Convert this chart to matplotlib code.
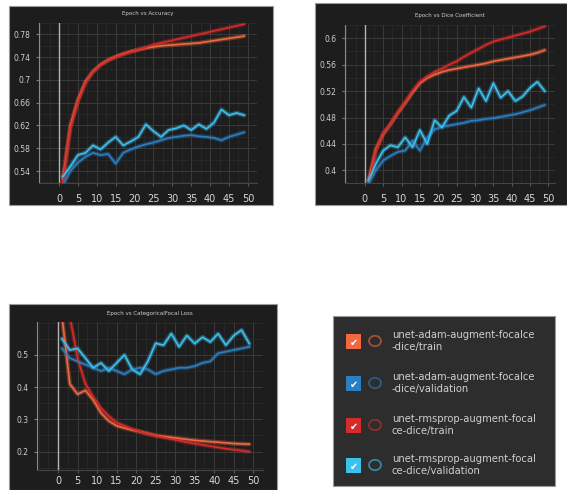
import matplotlib.pyplot as plt
from matplotlib.patches import Rectangle, Circle
from matplotlib.ticker import MultipleLocator

W, H = 567, 490

# epochs sampled every second step
epochs = [1, 3, 5, 7, 9, 11, 13, 15, 17, 19, 21, 23, 25,
          27, 29, 31, 33, 35, 37, 39, 41, 43, 45, 47, 49]

# Epoch vs Accuracy
acc_adam_train = [0.525, 0.62, 0.665, 0.697, 0.715, 0.727, 0.735, 0.741, 0.746, 0.750, 0.753, 0.756, 0.758,
                  0.760, 0.761, 0.762, 0.763, 0.764, 0.765, 0.767, 0.769, 0.771, 0.773, 0.775, 0.777]
acc_adam_val = [0.515, 0.54, 0.555, 0.565, 0.572, 0.568, 0.57, 0.553, 0.572, 0.578, 0.583, 0.587, 0.59,
                0.594, 0.598, 0.6, 0.602, 0.603, 0.601, 0.6, 0.598, 0.594, 0.6, 0.604, 0.608]
acc_rms_train = [0.52, 0.615, 0.662, 0.695, 0.714, 0.726, 0.734, 0.740, 0.745, 0.749, 0.753, 0.757, 0.762,
                 0.765, 0.768, 0.771, 0.774, 0.777, 0.780, 0.783, 0.786, 0.789, 0.792, 0.795, 0.798]
acc_rms_val = [0.53, 0.548, 0.568, 0.572, 0.585, 0.578, 0.59, 0.60, 0.585, 0.592, 0.60, 0.622, 0.61,
               0.60, 0.612, 0.615, 0.62, 0.612, 0.622, 0.614, 0.625, 0.648, 0.638, 0.642, 0.638]

# Epoch vs Dice Coefficient
dice_adam_train = [0.385, 0.432, 0.455, 0.47, 0.487, 0.502, 0.518, 0.532, 0.54, 0.545, 0.549, 0.552, 0.554,
                   0.556, 0.558, 0.56, 0.562, 0.565, 0.567, 0.569, 0.571, 0.573, 0.575, 0.578, 0.582]
dice_adam_val = [0.38, 0.40, 0.415, 0.422, 0.428, 0.43, 0.445, 0.43, 0.45, 0.462, 0.466, 0.468, 0.47,
                 0.472, 0.475, 0.476, 0.478, 0.479, 0.481, 0.483, 0.485, 0.488, 0.491, 0.495, 0.499]
dice_rms_train = [0.38, 0.43, 0.456, 0.47, 0.488, 0.503, 0.52, 0.534, 0.542, 0.549, 0.554, 0.56, 0.565,
                  0.572, 0.578, 0.584, 0.59, 0.595, 0.598, 0.601, 0.604, 0.607, 0.61, 0.614, 0.618]
dice_rms_val = [0.385, 0.41, 0.43, 0.438, 0.435, 0.45, 0.435, 0.461, 0.44, 0.476, 0.465, 0.483, 0.49,
                0.511, 0.495, 0.524, 0.505, 0.532, 0.51, 0.52, 0.505, 0.512, 0.525, 0.534, 0.52]

# Epoch vs CategoricalFocal Loss
loss_adam_train = [0.62, 0.41, 0.378, 0.39, 0.36, 0.32, 0.295, 0.28, 0.273, 0.267, 0.262, 0.256, 0.25,
                   0.247, 0.244, 0.241, 0.238, 0.235, 0.233, 0.231, 0.229, 0.227, 0.225, 0.224, 0.223]
loss_adam_val = [0.52, 0.49, 0.48, 0.47, 0.46, 0.45, 0.46, 0.45, 0.44, 0.455, 0.46, 0.455, 0.44,
                 0.45, 0.455, 0.46, 0.46, 0.465, 0.475, 0.48, 0.505, 0.51, 0.515, 0.52, 0.525]
loss_rms_train = [0.80, 0.62, 0.49, 0.41, 0.37, 0.335, 0.31, 0.29, 0.28, 0.27, 0.262, 0.255, 0.249,
                  0.244, 0.239, 0.234, 0.229, 0.225, 0.221, 0.217, 0.213, 0.209, 0.206, 0.203, 0.20]
loss_rms_val = [0.55, 0.515, 0.52, 0.49, 0.46, 0.475, 0.45, 0.475, 0.50, 0.455, 0.44, 0.48, 0.536,
                0.53, 0.566, 0.525, 0.56, 0.535, 0.555, 0.54, 0.566, 0.53, 0.56, 0.577, 0.535]

run_names = ["unet-adam-augment-focalce\n-dice/train",
             "unet-adam-augment-focalce\n-dice/validation",
             "unet-rmsprop-augment-focal\nce-dice/train",
             "unet-rmsprop-augment-focal\nce-dice/validation"]
run_colors = ["#f0683f", "#2a7ec2", "#d42b2b", "#3cc0ef"]

BG = "#1d1d1d"
TXT = "#cfcfcf"


def px_axes(left, top, right, bottom):
    return [left / W, 1 - bottom / H, (right - left) / W, (bottom - top) / H]


def panel_bg(fig, left, top, right, bottom, color=BG):
    r = Rectangle((left / W, 1 - bottom / H), (right - left) / W, (bottom - top) / H,
                  transform=fig.transFigure, facecolor=color, edgecolor="#9a9a9a", lw=0.8, zorder=0)
    fig.add_artist(r)


def draw_panel(fig, rect, title, title_y, series, xlim, ylim, ymajor, yminor, ylabels, xpad=6):
    ax = fig.add_axes(rect)
    ax.set_facecolor(BG)
    ax.set_xlim(*xlim)
    ax.set_ylim(*ylim)
    ax.xaxis.set_major_locator(MultipleLocator(5))
    ax.xaxis.set_minor_locator(MultipleLocator(2.5))
    ax.yaxis.set_major_locator(MultipleLocator(ymajor))
    ax.yaxis.set_minor_locator(MultipleLocator(yminor))
    ax.set_xticks(range(0, 51, 5))
    ax.set_yticks(ylabels)
    ax.set_yticklabels([("%.2f" % v).rstrip("0") for v in ylabels])
    ax.grid(which="major", color="#3a3a3a", lw=0.7)
    ax.grid(which="minor", color="#2c2c2c", lw=0.5)
    ax.tick_params(axis="x", colors="#5a5a5a", labelcolor="#d8d8d8", labelsize=7, length=2, pad=xpad)
    ax.tick_params(axis="y", colors="#7a7a7a", labelcolor=TXT, labelsize=5.5, length=2, pad=4)
    ax.tick_params(which="minor", length=0)
    for s in ["top", "right"]:
        ax.spines[s].set_visible(False)
    ax.spines["left"].set_color("#8a8a8a")
    ax.spines["bottom"].set_color("#444444")
    ax.axvline(0, color="#b5b5b5", lw=1.0, zorder=2)
    for ys, c in series:
        ax.plot(epochs, ys, color=c, lw=3.2, alpha=0.35, zorder=3, solid_capstyle="round")
        ax.plot(epochs, ys, color=c, lw=1.2, zorder=4)
    fig.text(rect[0] + rect[2] / 2, 1 - title_y / H, title, color=TXT, fontsize=4,
             ha="center", va="center")
    return ax


fig = plt.figure(figsize=(W / 100, H / 100), dpi=100)
fig.patch.set_facecolor("white")

panel_bg(fig, 9, 6, 273, 205)
panel_bg(fig, 315, 3, 567, 205)
panel_bg(fig, 9, 304, 277, 490)

draw_panel(fig, px_axes(39, 23, 257, 183), "Epoch vs Accuracy", 14,
           [(acc_adam_train, run_colors[0]), (acc_rms_train, run_colors[2]),
            (acc_adam_val, run_colors[1]), (acc_rms_val, run_colors[3])],
           (-5.3, 52.4), (0.519, 0.80), 0.04, 0.02,
           [0.54, 0.58, 0.62, 0.66, 0.70, 0.74, 0.78])

draw_panel(fig, px_axes(345, 25, 555, 183), "Epoch vs Dice Coefficient", 16,
           [(dice_adam_train, run_colors[0]), (dice_rms_train, run_colors[2]),
            (dice_adam_val, run_colors[1]), (dice_rms_val, run_colors[3])],
           (-5.4, 51.8), (0.381, 0.62), 0.04, 0.02,
           [0.40, 0.44, 0.48, 0.52, 0.56, 0.60])

draw_panel(fig, px_axes(37, 322, 263, 470), "Epoch vs CategoricalFocal Loss", 313,
           [(loss_adam_train, run_colors[0]), (loss_rms_train, run_colors[2]),
            (loss_adam_val, run_colors[1]), (loss_rms_val, run_colors[3])],
           (-5.4, 52.5), (0.143, 0.602), 0.1, 0.05,
           [0.2, 0.3, 0.4, 0.5], xpad=2.5)

# run list box
panel_bg(fig, 333, 316, 555, 486, color="#2d2d2d")
row_y = [341, 383, 425, 465]
for name, c, y in zip(run_names, run_colors, row_y):
    bx, by, bs = 346, y - 7, 15
    fig.add_artist(Rectangle((bx / W, 1 - (by + bs) / H), bs / W, bs / H,
                             transform=fig.transFigure, facecolor=c, edgecolor="none"))
    fig.text((bx + bs / 2) / W, 1 - (by + bs / 2 + 1) / H, "\u2714", color="white",
             fontsize=7, ha="center", va="center", family="DejaVu Sans")
    circ = Circle((375 / W, 1 - y / H), 6 / W, transform=fig.transFigure,
                  facecolor="none", edgecolor=c, lw=1.3, alpha=0.6)
    fig.add_artist(circ)
    fig.text(392 / W, 1 - y / H, name, color=TXT, fontsize=7.2, ha="left",
             va="center", linespacing=1.15)

fig.savefig("out.png", dpi=100, facecolor=fig.get_facecolor())
